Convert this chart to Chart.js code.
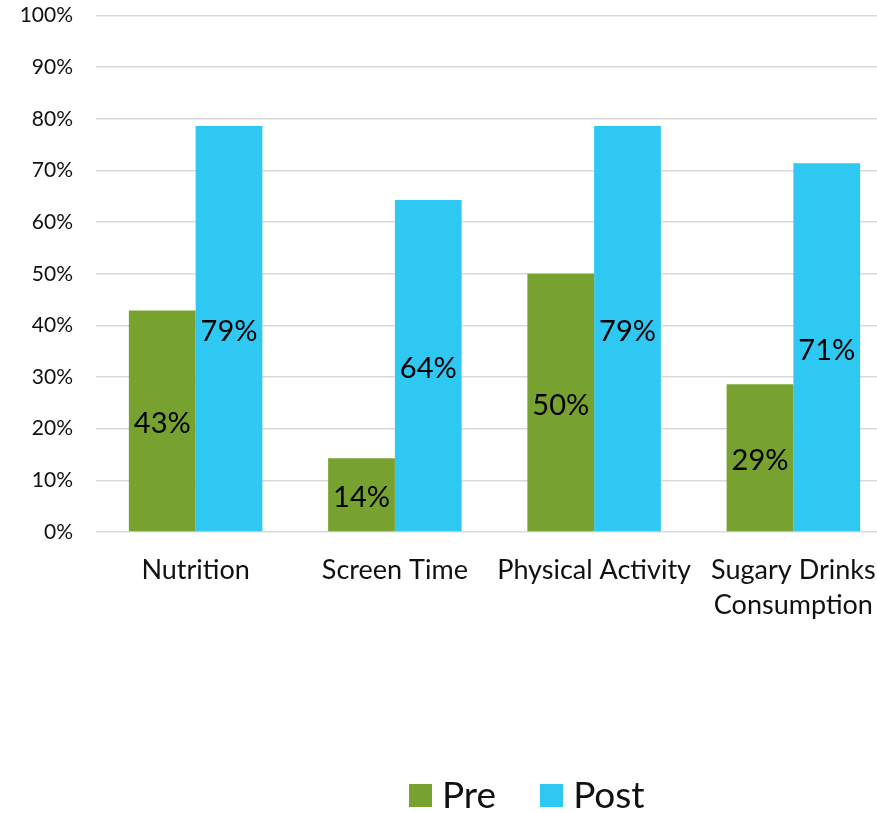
<!DOCTYPE html>
<html>
<head>
<meta charset="utf-8">
<script src="https://cdn.jsdelivr.net/npm/chart.js@4"></script>
<style>
  html, body { margin: 0; padding: 0; background: #fff; overflow: hidden; width: 877px; height: 813px; }
  #wrap { position: relative; width: 900px; height: 813px; }
  #chart { position: absolute; left: 0; top: -20px; }
  #legend { position: absolute; top: 771px; left: 409px; font-family: Lato, sans-serif; font-size: 37px; color: #111; white-space: nowrap; }
  #legend span.box { display: inline-block; width: 23px; height: 23px; vertical-align: middle; margin-right: 10px; position: relative; top: -3px; }
  #legend span.item { margin-right: 44px; }
</style>
</head>
<body>
<div id="wrap">
  <canvas id="chart" width="900" height="833"></canvas>
  <div id="legend"></div>
</div>
<script>
// categories and values (percent)
const categories = ['Nutrition', 'Screen Time', 'Physical Activity', ['Sugary Drinks', 'Consumption']];
const preValues = [42.9, 14.3, 50.0, 28.6];
const postValues = [78.6, 64.3, 78.6, 71.4];
const yTicks = [0, 10, 20, 30, 40, 50, 60, 70, 80, 90, 100];

const preColor = '#77a22f';
const postColor = '#2fc8f3';

// labels in the middle of each bar
const barLabels = {
    id: 'barLabels',
    afterDatasetsDraw(chart) {
        const ctx = chart.ctx;
        ctx.save();
        ctx.font = '29px Lato, sans-serif';
        ctx.fillStyle = '#000';
        ctx.textAlign = 'center';
        ctx.textBaseline = 'middle';
        chart.data.datasets.forEach((ds, i) => {
            chart.getDatasetMeta(i).data.forEach((bar, j) => {
                const y = (bar.y + bar.base) / 2 + 3;
                ctx.fillText(Math.round(ds.data[j]) + '%', bar.x, y);
            });
        });
        ctx.restore();
    }
};

const ctx = document.getElementById('chart').getContext('2d');
const chart = new Chart(ctx, {
    type: 'bar',
    data: {
        labels: categories,
        datasets: [
            { label: 'Pre', data: preValues, backgroundColor: preColor, borderWidth: 0 },
            { label: 'Post', data: postValues, backgroundColor: postColor, borderWidth: 0 }
        ]
    },
    options: {
        responsive: false,
        animation: false,
        layout: { padding: { top: 0, right: 7, bottom: 0, left: 0 } },
        datasets: { bar: { categoryPercentage: 0.67, barPercentage: 1.0 } },
        plugins: {
            legend: { display: false },
            tooltip: { enabled: false }
        },
        scales: {
            x: {
                grid: { display: false },
                border: { display: false },
                afterFit: s => { s.height = 281; },
                ticks: {
                    color: '#111',
                    padding: 13,
                    maxRotation: 0,
                    autoSkip: false,
                    font: { family: 'Lato, sans-serif', size: 27, lineHeight: 1.3 }
                }
            },
            y: {
                min: 0,
                max: 100,
                afterFit: s => { s.width = 96; },
                afterBuildTicks: s => { s.ticks = yTicks.map(v => ({ value: v })); },
                grid: { color: '#d9d9d9', lineWidth: 1.5, drawTicks: false },
                border: { display: false },
                ticks: {
                    color: '#111',
                    padding: 23,
                    font: { family: 'Lato, sans-serif', size: 21 },
                    callback: v => v + '%'
                }
            }
        }
    },
    plugins: [barLabels]
});

// legend below the chart
const legendEl = document.getElementById('legend');
chart.data.datasets.forEach(ds => {
    const item = document.createElement('span');
    item.className = 'item';
    item.innerHTML = `<span class="box" style="background:${ds.backgroundColor}"></span>${ds.label}`;
    legendEl.appendChild(item);
});
</script>
</body>
</html>
